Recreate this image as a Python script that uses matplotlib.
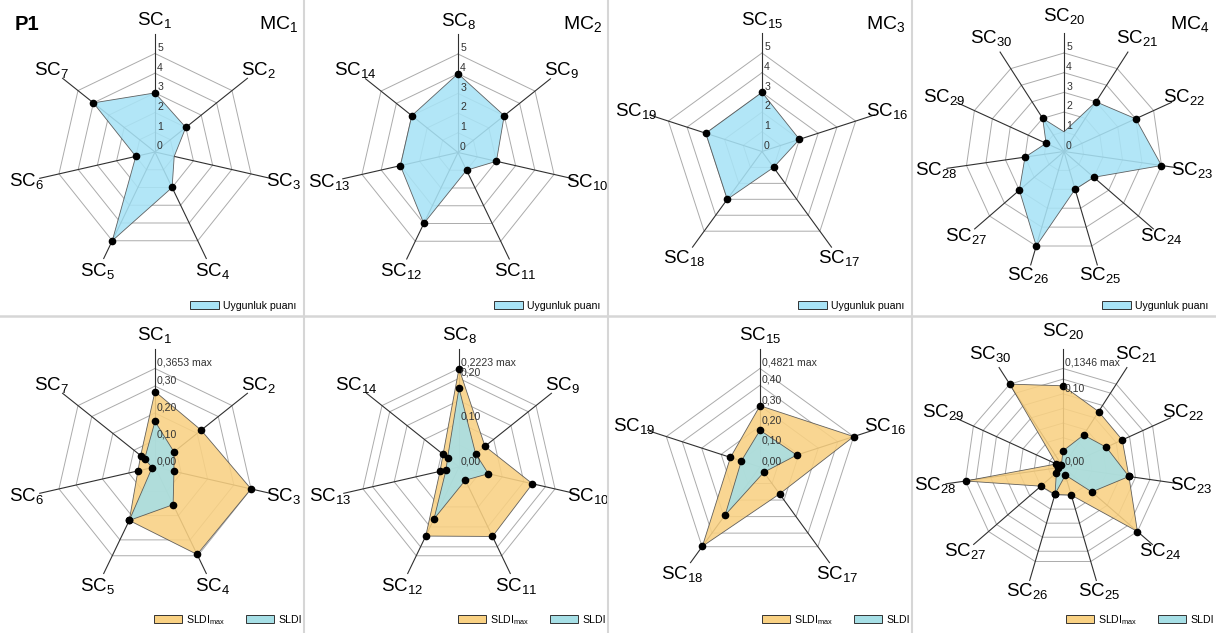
import matplotlib.pyplot as plt
import numpy as np
from matplotlib.patches import Patch
from matplotlib.lines import Line2D

plt.rcParams['font.family'] = ['Liberation Sans', 'DejaVu Sans']
plt.rcParams['mathtext.default'] = 'regular'

# sub-criteria names per main criterion
mc1_names = ['SC$_{1}$', 'SC$_{2}$', 'SC$_{3}$', 'SC$_{4}$', 'SC$_{5}$', 'SC$_{6}$', 'SC$_{7}$']
mc2_names = ['SC$_{8}$', 'SC$_{9}$', 'SC$_{10}$', 'SC$_{11}$', 'SC$_{12}$', 'SC$_{13}$', 'SC$_{14}$']
mc3_names = ['SC$_{15}$', 'SC$_{16}$', 'SC$_{17}$', 'SC$_{18}$', 'SC$_{19}$']
mc4_names = ['SC$_{20}$', 'SC$_{21}$', 'SC$_{22}$', 'SC$_{23}$', 'SC$_{24}$', 'SC$_{25}$',
             'SC$_{26}$', 'SC$_{27}$', 'SC$_{28}$', 'SC$_{29}$', 'SC$_{30}$']
mc_titles = ['MC$_{1}$', 'MC$_{2}$', 'MC$_{3}$', 'MC$_{4}$']

# uygunluk puani (0-5)
mc1_fit = [3, 2, 1, 2, 5, 1, 4]
mc2_fit = [4, 3, 2, 1, 4, 3, 3]
mc3_fit = [3, 2, 1, 3, 3]
mc4_fit = [1, 3, 4, 5, 2, 2, 5, 3, 2, 1, 2]

# SLDI max / SLDI
mc1_sldi_max = [0.280, 0.219, 0.3653, 0.360, 0.220, 0.065, 0.068]
mc1_sldi = [0.169, 0.090, 0.072, 0.155, 0.220, 0.011, 0.049]
mc2_sldi_max = [0.2223, 0.075, 0.170, 0.174, 0.173, 0.044, 0.046]
mc2_sldi = [0.178, 0.048, 0.068, 0.033, 0.130, 0.030, 0.033]
mc3_sldi_max = [0.300, 0.4821, 0.163, 0.480, 0.152]
mc3_sldi = [0.180, 0.189, 0.032, 0.290, 0.096]
mc4_sldi_max = [0.111, 0.090, 0.089, 0.091, 0.1346, 0.040, 0.039, 0.040, 0.1346, 0.010, 0.1346]
mc4_sldi = [0.022, 0.052, 0.065, 0.091, 0.052, 0.0115, 0.0385, 0.012, 0.007, 0.005, 0.004]

fit_ticks = [0, 1, 2, 3, 4, 5]
fit_tick_labels = ['0', '1', '2', '3', '4', '5']
sldi_max_vals = [0.3653, 0.2223, 0.4821, 0.1346]
sldi_ticks = [[0, 0.1, 0.2, 0.3], [0, 0.1, 0.2], [0, 0.1, 0.2, 0.3, 0.4], [0, 0.1]]
sldi_rings = [[0.1, 0.2, 0.3], [0.05, 0.1, 0.15, 0.2], [0.1, 0.2, 0.3, 0.4], [0.02, 0.04, 0.06, 0.08, 0.1, 0.12]]
# points drawn without a dot marker in the top row
top_no_marker = [[2], [], [], [0]]

W, H = 1216, 633
R = 98.5
BLUE_TOP = '#a8e3f6'
BLUE_BOT = '#a6dfe6'
ORANGE = '#f9d183'

fig = plt.figure(figsize=(W / 100, H / 100), dpi=100)


def radar(cx, cy, names, vmax, rings, ticks, tick_labels):
    ax = fig.add_axes([(cx - R) / W, 1 - (cy + R) / H, 2 * R / W, 2 * R / H], projection='polar')
    ax.set_theta_zero_location('N')
    ax.set_theta_direction(-1)
    ax.set_ylim(0, vmax)
    ax.grid(False)
    ax.spines['polar'].set_visible(False)
    ax.set_xticks([])
    ax.set_yticks([])
    ax.patch.set_alpha(0)
    n = len(names)
    th = np.arange(n) * 2 * np.pi / n
    thc = np.append(th, th[0])
    for r in list(rings) + [vmax]:
        ax.plot(thc, [r] * (n + 1), color='#ababab', lw=0.7, zorder=1, clip_on=False)
    for t in th:
        ax.plot([t, t], [0, 1.2 * vmax], color='#303030', lw=0.8, zorder=1, clip_on=False)
    for t, name in zip(th, names):
        if n > 8:
            lr = 1.31 + 0.07 * max(np.cos(t), 0)
        else:
            lr = 1.34
        ax.text(t, lr * vmax, name, ha='center', va='center', fontsize=13.5)
    for v, lab in zip(ticks, tick_labels):
        ax.annotate(lab, xy=(0, v), xytext=(1.5, 0.5), textcoords='offset points',
                    ha='left', va='bottom', fontsize=7.6, color='#333333', zorder=6,
                    annotation_clip=False)
    return ax, th, thc


def series(ax, th, thc, vals, color, skip=()):
    vc = list(vals) + [vals[0]]
    ax.fill(thc, vc, facecolor=color, edgecolor='#4d4d4d', lw=0.6, alpha=0.88, zorder=2, clip_on=False)
    keep = [k for k in range(len(vals)) if k not in skip]
    ax.plot(th[keep], np.array(vals)[keep], 'o', color='black', ms=4.5, zorder=5, clip_on=False)


names_all = [mc1_names, mc2_names, mc3_names, mc4_names]
fit_all = [mc1_fit, mc2_fit, mc3_fit, mc4_fit]
smax_all = [mc1_sldi_max, mc2_sldi_max, mc3_sldi_max, mc4_sldi_max]
s_all = [mc1_sldi, mc2_sldi, mc3_sldi, mc4_sldi]

top_centers = [(155, 152), (458, 152.5), (762, 151.5), (1064, 151.5)]
bot_centers = [(155, 467), (459, 467), (760, 467), (1063, 467)]

for i in range(4):
    # top row: uygunluk puani
    cx, cy = top_centers[i]
    ax, th, thc = radar(cx, cy, names_all[i], 5, [1, 2, 3, 4], fit_ticks, fit_tick_labels)
    series(ax, th, thc, fit_all[i], BLUE_TOP, top_no_marker[i])
    ax.legend(handles=[Patch(facecolor=BLUE_TOP, edgecolor='#333333', lw=0.7, label='Uygunluk puanı')],
              loc='center left', bbox_to_anchor=((304 * i + 190) / W, 1 - 306 / H),
              bbox_transform=fig.transFigure, frameon=False, fontsize=7.6,
              handlelength=2.7, handleheight=0.8, handletextpad=0.4, borderpad=0, borderaxespad=0)
    fig.text((304 * i + 298) / W, 1 - 24 / H, mc_titles[i], ha='right', va='center', fontsize=14)

    # bottom row: SLDI
    cx, cy = bot_centers[i]
    vmax = sldi_max_vals[i]
    labs = [('%.2f' % t).replace('.', ',') for t in sldi_ticks[i]]
    ticks = sldi_ticks[i] + [vmax]
    labs = labs + [('%.4f' % vmax).replace('.', ',') + ' max']
    ax, th, thc = radar(cx, cy, names_all[i], vmax, sldi_rings[i], ticks, labs)
    series(ax, th, thc, smax_all[i], ORANGE)
    series(ax, th, thc, s_all[i], BLUE_BOT)
    ax.legend(handles=[Patch(facecolor=ORANGE, edgecolor='#333333', lw=0.7, label='SLDI$_{max}$'),
                       Patch(facecolor=BLUE_BOT, edgecolor='#333333', lw=0.7, label='SLDI')],
              loc='center right', bbox_to_anchor=((304 * i + 302) / W, 1 - 620 / H),
              bbox_transform=fig.transFigure, frameon=False, fontsize=7.6, ncol=2,
              handlelength=2.7, handleheight=0.8, handletextpad=0.4, columnspacing=1.9,
              borderpad=0, borderaxespad=0)

fig.text(15 / W, 1 - 24 / H, 'P1', ha='left', va='center', fontsize=14.5, fontweight='bold')

# panel dividers
for x in [304, 608, 912]:
    fig.add_artist(Line2D([x / W, x / W], [0, 1], transform=fig.transFigure, color='#d6d6d6', lw=1.5))
fig.add_artist(Line2D([0, 1], [1 - 316 / H, 1 - 316 / H], transform=fig.transFigure, color='#d6d6d6', lw=1.8))

fig.savefig('out.png', dpi=100)
